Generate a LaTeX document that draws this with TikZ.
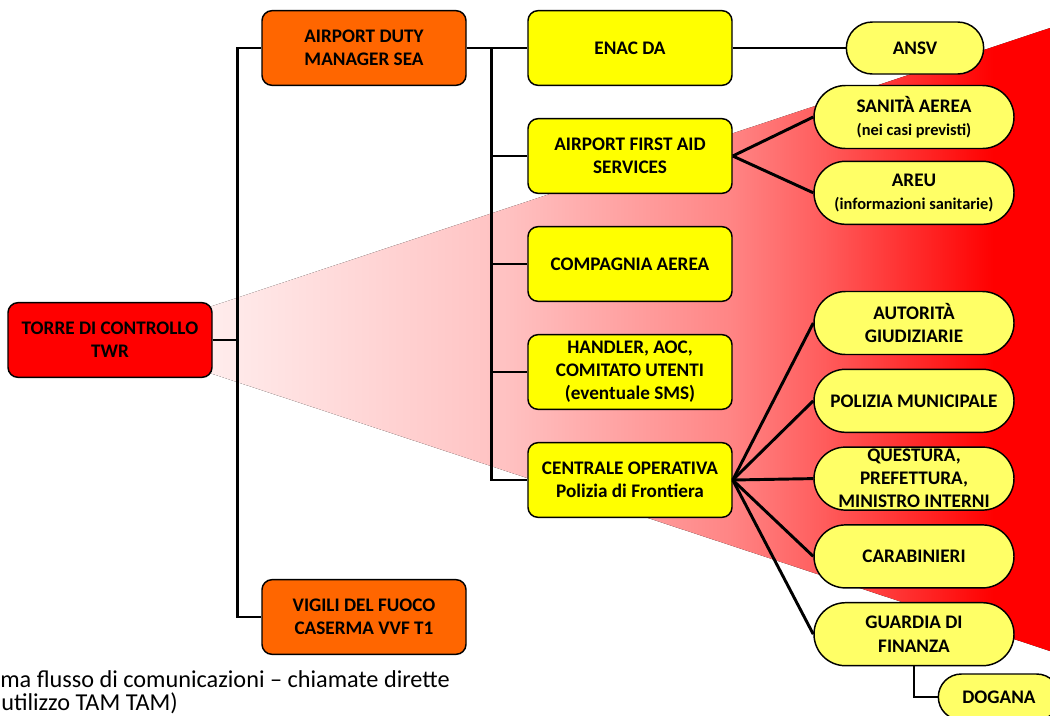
\documentclass[tikz,border=0pt]{standalone}
\usepackage{fontspec}
\setmainfont{Carlito}
\usepackage{tikz}
\usetikzlibrary{shapes.misc, arrows, positioning, calc, backgrounds}

\definecolor{twrred}{HTML}{FF0000}
\definecolor{seaorange}{HTML}{FF6600}
\definecolor{boxyellow}{HTML}{FFFF00}
\definecolor{paleyellow}{HTML}{FFFF66}
\pgfdeclarehorizontalshading{wedgefade}{100bp}{color(0bp)=(red!3); color(25bp)=(red!3); color(30bp)=(red!7); color(46bp)=(red!24); color(58bp)=(red!48); color(63bp)=(red!64); color(72bp)=(red); color(100bp)=(red)}

\begin{document}
\begin{tikzpicture}[x=0.75pt, y=-0.75pt, node distance=23.9pt, >=latex, font=\fontsize{14.4}{17.3}\selectfont\bfseries]
    \tikzstyle{base} = [draw, line width=1.1pt, text centered, align=center, inner sep=1pt]
    \tikzstyle{tower} = [base, rectangle, rounded corners=7.5pt, fill=twrred, minimum width=153pt, minimum height=56pt]
    \tikzstyle{mgr} = [tower, fill=seaorange]
    \tikzstyle{block} = [tower, fill=boxyellow]
    \tikzstyle{agency} = [base, rounded rectangle, fill=paleyellow, minimum width=152pt, minimum height=47.25pt, inner ysep=0pt]
    \tikzstyle{conn} = [line width=2.2pt]
    \tikzstyle{caption} = [anchor=base west, inner sep=0pt, font=\fontsize{18.2}{22}\selectfont]
    \newcommand{\note}[1]{{\fontsize{12.3}{15}\selectfont #1}}

    \useasboundingbox (0,0) rectangle (1050,715);

    \node [tower] (twr) at (110,340) {TORRE DI CONTROLLO\\TWR};
    \node [mgr] (adm) at (364,48) {AIRPORT DUTY\\MANAGER SEA};
    \node [mgr] (vvf) at (364,617) {VIGILI DEL FUOCO\\CASERMA VVF T1};

    \node [block] (enac) at (630,48) {ENAC DA};
    \node [block, below=of enac] (afas) {AIRPORT FIRST AID\\SERVICES};
    \node [block, below=of afas] (comp) {COMPAGNIA AEREA};
    \node [block, below=of comp] (handler) {HANDLER, AOC,\\COMITATO UTENTI\\(eventuale SMS)};
    \node [block, below=of handler] (centrale) {CENTRALE OPERATIVA\\Polizia di Frontiera};

    \node [agency, minimum width=105pt, minimum height=39pt] (ansv) at (915,48) {ANSV};
    \node [agency] (sanita) at (914,117) {SANITÀ AEREA\\\note{(nei casi previsti)}};
    \node [agency, below=8.5pt of sanita] (areu) {AREU\\\note{(informazioni sanitarie)}};
    \node [agency] (autorita) at (914,323) {AUTORITÀ\\GIUDIZIARIE};
    \node [agency, below=10pt of autorita] (polmun) {POLIZIA MUNICIPALE};
    \node [agency, below=10pt of polmun] (questura) {QUESTURA,\\PREFETTURA,\\MINISTRO INTERNI};
    \node [agency, below=10pt of questura] (carab) {CARABINIERI};
    \node [agency, below=10pt of carab] (gdf) {GUARDIA DI\\FINANZA};
    \node [agency, minimum width=93pt, minimum height=34.5pt] (dogana) at (999,697) {DOGANA};

    % red wedge behind the tree
    \begin{scope}[on background layer]
        \fill[shading=wedgefade] (twr.center) -- (1050,28) -- (1050,651) -- cycle;
    \end{scope}

    % Connections
    \coordinate (lbus) at ($(twr.east)+(25,0)$);
    \coordinate (rbus) at ($(adm.east)+(25,0)$);
    \draw[conn] (twr.east) -- (lbus);
    \foreach \n in {adm, vvf}
        \draw[conn] (lbus) |- (\n.west);
    \draw[conn] (adm.east) -- (enac.west);
    \foreach \n in {afas, comp, handler, centrale}
        \draw[conn] (rbus) |- (\n.west);
    \draw[conn] (enac.east) -- (ansv.west);
    \foreach \n in {sanita, areu}
        \draw[conn] (afas.east) -- (\n.west);
    \foreach \n in {autorita, polmun, questura, carab, gdf}
        \draw[conn] (centrale.east) -- (\n.west);
    \draw[conn] (gdf.south) |- (dogana.west);

    \node [caption] (cap1) at (0,687) {ma flusso di comunicazioni – chiamate dirette};
    \node [caption] (cap2) at (1,710) {utilizzo TAM TAM)};
\end{tikzpicture}
\end{document}
